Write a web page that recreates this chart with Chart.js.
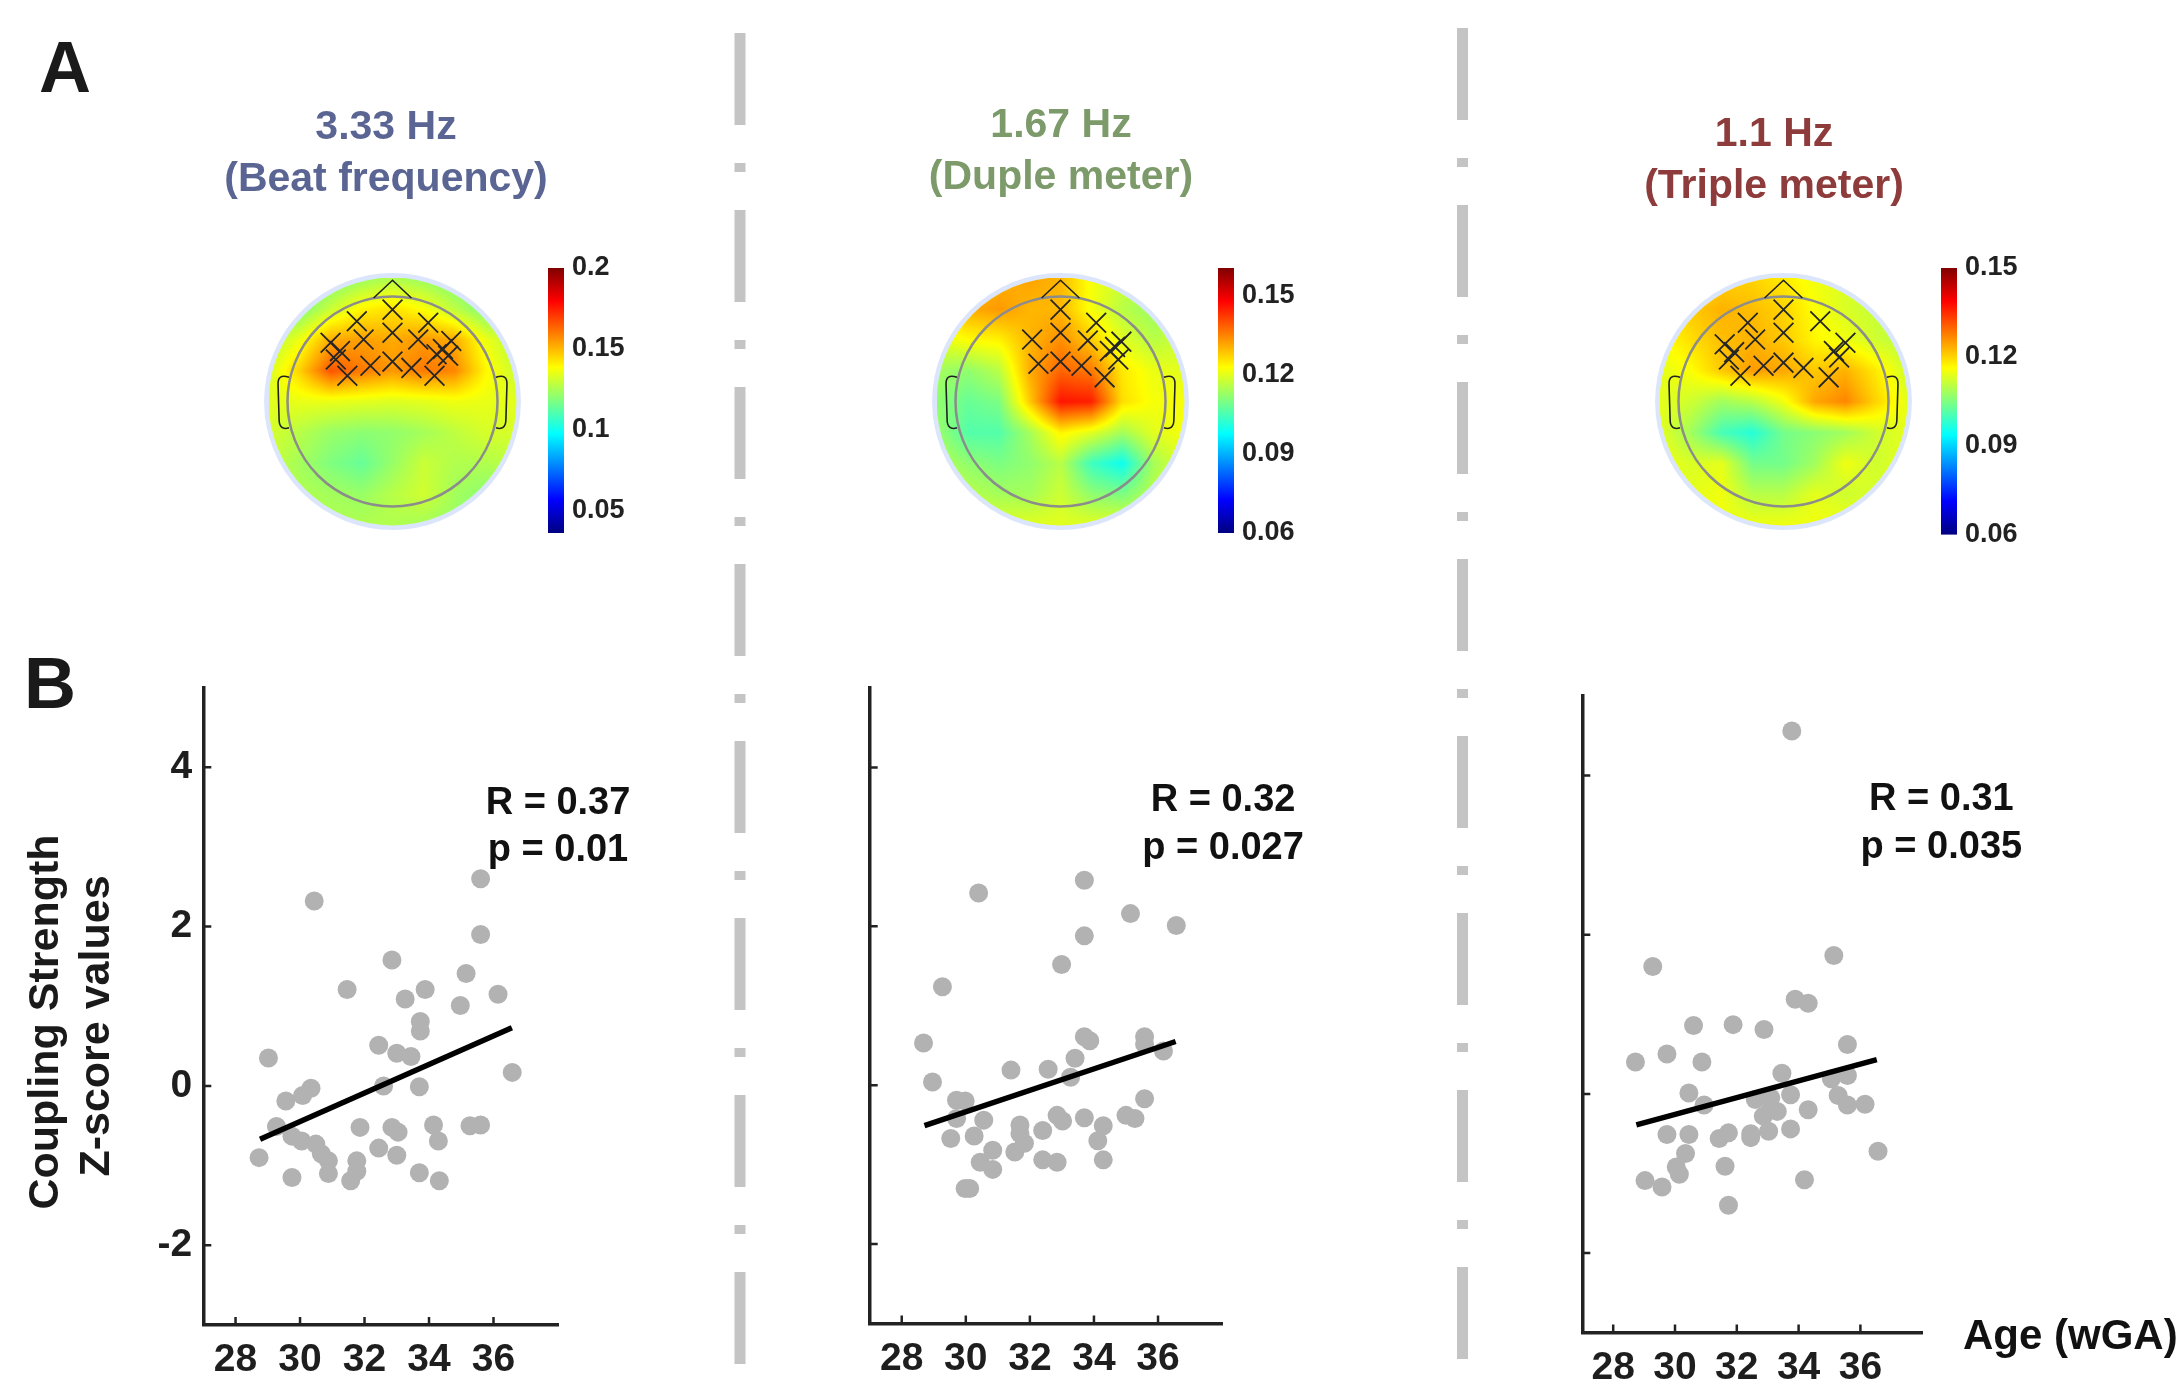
<!DOCTYPE html>
<html>
<head>
<meta charset="utf-8">
<script src="https://cdn.jsdelivr.net/npm/chart.js@4.4.1/dist/chart.umd.min.js"></script>
<style>
  body { margin: 0; background: #fff; }
  #lienzo { position: relative; width: 2181px; height: 1385px; overflow: hidden; font-family: "Liberation Sans", Arial, sans-serif; }
  #lienzo canvas { position: absolute; }
  .texto { position: absolute; font-weight: bold; white-space: nowrap; }
  .titulo { width: 500px; text-align: center; font-size: 41px; line-height: 52px; }
</style>
</head>
<body>
<div id="lienzo">
  <canvas id="separadores" width="2181" height="1385" style="left:0;top:0"></canvas>
  <div class="texto" style="left:39px;top:31px;font-size:72px;line-height:72px;color:#1a1a1a">A</div>
  <div class="texto" style="left:24px;top:647px;font-size:72px;line-height:72px;color:#1a1a1a">B</div>
  <div class="texto" style="left:1963px;top:1310px;font-size:42px;line-height:50px;color:#111">Age (wGA)</div>
</div>
<script>
// Ejes de la parte B
const ticksEdad = [28, 30, 32, 34, 36];
const ticksZ = [-2, 0, 2, 4];

// 3.33 Hz
const edad1 = [28.73, 29.02, 29.27, 29.56, 29.75, 29.75, 30.05, 30.08, 30.34, 30.44, 30.49, 30.66, 30.88, 30.88, 31.46,
  31.57, 31.76, 31.76, 31.86, 32.44, 32.44, 32.59, 32.85, 32.85, 33.04, 33.0, 33.0, 33.26, 33.44, 33.7,
  33.73, 33.73, 33.7, 33.88, 34.14, 34.29, 34.32, 34.97, 35.15, 35.27, 35.6, 35.6, 35.6, 36.14, 36.58];
const z1 = [-0.9, 0.35, -0.51, -0.19, -1.15, -0.63, -0.69, -0.12, -0.03, 2.32, -0.73, -0.85, -0.94, -1.1, 1.21,
  -1.19, -0.94, -1.07, -0.52, -0.78, 0.51, 0.0, 1.58, -0.52, -0.58, -0.87, 0.41, 1.09, 0.37, -0.01,
  0.81, 0.69, -1.09, 1.21, -0.49, -0.69, -1.19, 1.01, 1.41, -0.5, -0.49, 1.9, 2.6, 1.15, 0.17];
const recta1 = [{ x: 28.76, y: -0.67 }, { x: 36.57, y: 0.73 }];

// 1.67 Hz
const edad2 = [28.68, 28.96, 29.27, 29.53, 29.71, 29.71, 29.98, 29.98, 30.12, 30.26, 30.4, 30.45, 30.56, 30.84, 30.84,
  31.41, 31.53, 31.69, 31.69, 31.83, 32.4, 32.4, 32.57, 32.85, 32.85, 32.99, 33.02, 33.27, 33.41, 33.7,
  33.7, 33.7, 33.7, 33.87, 34.12, 34.29, 34.29, 35.0, 35.28, 35.14, 35.58, 35.58, 35.58, 36.17, 36.57];
const z2 = [0.53, 0.04, 1.24, -0.67, -0.19, -0.42, -0.2, -1.3, -1.3, -0.64, 2.42, -0.97, -0.44, -0.82, -1.06,
  0.19, -0.84, -0.5, -0.61, -0.73, -0.57, -0.94, 0.2, -0.38, -0.97, 1.52, -0.45, 0.1, 0.34, 2.58,
  1.88, 0.61, -0.41, 0.56, -0.7, -0.51, -0.94, -0.38, -0.42, 2.16, -0.17, 0.61, 0.52, 0.43, 2.01];
const recta2 = [{ x: 28.71, y: -0.51 }, { x: 36.55, y: 0.55 }];

// 1.1 Hz
const edad3 = [28.72, 29.03, 29.28, 29.58, 29.74, 29.74, 30.04, 30.14, 30.34, 30.45, 30.45, 30.6, 30.87, 30.94, 31.43,
  31.62, 31.73, 31.73, 31.88, 32.45, 32.45, 32.6, 32.88, 32.86, 33.03, 33.1, 33.1, 33.31, 33.46, 33.74,
  33.74, 33.78, 33.89, 34.31, 34.19, 34.31, 35.06, 35.14, 35.28, 35.58, 35.58, 35.58, 36.15, 36.57];
const z3 = [0.4, -1.09, 1.6, -1.17, 0.5, -0.51, -0.92, -1.01, -0.75, 0.01, -0.51, 0.86, 0.4, -0.14, -0.56,
  -0.91, -0.49, -1.4, 0.87, -0.55, -0.5, -0.07, 0.81, -0.28, -0.47, -0.05, -0.2, -0.22, 0.26, -0.01,
  -0.44, 4.56, 1.19, 1.14, -1.08, -0.2, 0.19, 1.74, -0.02, 0.62, 0.23, -0.14, -0.13, -0.72];
const recta3 = [{ x: 28.75, y: -0.39 }, { x: 36.53, y: 0.43 }];

const valoresR = ["0.37", "0.32", "0.31"];
const valoresP = ["0.01", "0.027", "0.035"];

// Parte A: titulos
const frecuencias = ["3.33 Hz", "1.67 Hz", "1.1 Hz"];
const nombres = ["(Beat frequency)", "(Duple meter)", "(Triple meter)"];

// Escalas de color
const rango1 = [0.036, 0.2];
const rango2 = [0.06, 0.1606];
const rango3 = [0.06, 0.15];
const ticksBarra1 = [0.05, 0.1, 0.15, 0.2];
const ticksBarra2 = [0.06, 0.09, 0.12, 0.15];
const ticksBarra3 = [0.06, 0.09, 0.12, 0.15];

// Electrodos significativos (coordenadas de cabeza, radio = 1)
const electrodos1 = [[0, 0.875], [-0.34, 0.765], [0.34, 0.75], [0, 0.655], [-0.275, 0.59], [-0.59, 0.56], [-0.5, 0.48],
  [0.245, 0.59], [0.56, 0.576], [0.48, 0.5], [0.53, 0.435], [-0.54, 0.4], [-0.21, 0.34], [0, 0.38], [0.18, 0.32],
  [0.42, 0.45], [-0.43, 0.245], [0.4, 0.245]];
const electrodos2 = [[0, 0.875], [0.34, 0.75], [-0.27, 0.59], [0, 0.655], [0.26, 0.58], [0.58, 0.57], [0.47, 0.48],
  [0.55, 0.4], [-0.21, 0.36], [0, 0.38], [0.2, 0.34], [0.42, 0.23], [0.52, 0.52]];
const electrodos3 = [[0, 0.875], [-0.34, 0.75], [0.35, 0.765], [0, 0.655], [-0.27, 0.59], [-0.56, 0.545], [-0.47, 0.47],
  [-0.52, 0.4], [0.59, 0.56], [0.48, 0.48], [0.53, 0.42], [-0.19, 0.34], [0, 0.37], [0.19, 0.32], [-0.41, 0.245],
  [0.43, 0.23]];

// Valores del mapa en rejilla 9x9 (filas de arriba a abajo, x de -1.18 a 1.18)
const rejilla1 = [
  [0.115, 0.115, 0.117, 0.122, 0.126, 0.122, 0.117, 0.115, 0.115],
  [0.116, 0.118, 0.13, 0.14, 0.143, 0.138, 0.128, 0.118, 0.116],
  [0.126, 0.136, 0.152, 0.154, 0.152, 0.155, 0.152, 0.136, 0.126],
  [0.132, 0.146, 0.166, 0.16, 0.155, 0.16, 0.158, 0.14, 0.13],
  [0.134, 0.135, 0.135, 0.134, 0.133, 0.134, 0.136, 0.135, 0.134],
  [0.132, 0.127, 0.122, 0.12, 0.121, 0.124, 0.128, 0.132, 0.132],
  [0.13, 0.124, 0.118, 0.114, 0.122, 0.13, 0.126, 0.126, 0.128],
  [0.128, 0.126, 0.124, 0.122, 0.127, 0.131, 0.124, 0.12, 0.122],
  [0.126, 0.126, 0.126, 0.126, 0.126, 0.124, 0.122, 0.12, 0.12]
];
const rejilla2 = [
  [0.125, 0.128, 0.13, 0.132, 0.13, 0.122, 0.118, 0.115, 0.115],
  [0.126, 0.131, 0.133, 0.13, 0.13, 0.122, 0.116, 0.113, 0.115],
  [0.12, 0.123, 0.124, 0.13, 0.134, 0.128, 0.12, 0.116, 0.118],
  [0.114, 0.112, 0.116, 0.131, 0.138, 0.136, 0.125, 0.121, 0.12],
  [0.112, 0.108, 0.11, 0.128, 0.146, 0.145, 0.126, 0.122, 0.122],
  [0.113, 0.106, 0.106, 0.114, 0.124, 0.12, 0.114, 0.12, 0.122],
  [0.116, 0.112, 0.11, 0.112, 0.116, 0.104, 0.099, 0.114, 0.12],
  [0.118, 0.116, 0.114, 0.114, 0.118, 0.112, 0.11, 0.116, 0.12],
  [0.12, 0.12, 0.12, 0.12, 0.12, 0.12, 0.12, 0.12, 0.12]
];
const rejilla3 = [
  [0.116, 0.118, 0.12, 0.12, 0.118, 0.115, 0.113, 0.112, 0.112],
  [0.118, 0.121, 0.123, 0.122, 0.12, 0.116, 0.113, 0.111, 0.11],
  [0.116, 0.119, 0.122, 0.123, 0.121, 0.117, 0.115, 0.112, 0.11],
  [0.114, 0.116, 0.121, 0.125, 0.124, 0.121, 0.123, 0.118, 0.112],
  [0.114, 0.112, 0.108, 0.11, 0.115, 0.124, 0.127, 0.12, 0.114],
  [0.114, 0.108, 0.1, 0.097, 0.104, 0.106, 0.108, 0.112, 0.114],
  [0.115, 0.113, 0.114, 0.104, 0.104, 0.108, 0.115, 0.112, 0.114],
  [0.115, 0.114, 0.115, 0.11, 0.11, 0.114, 0.112, 0.113, 0.115],
  [0.115, 0.115, 0.115, 0.115, 0.115, 0.115, 0.115, 0.115, 0.115]
];

Chart.defaults.font.family = '"Liberation Sans", Arial, sans-serif';
Chart.defaults.color = "#1e1e1e";
Chart.defaults.layout.autoPadding = false;

// Mapa de color jet de MATLAB
function jet(t) {
  t = Math.max(0, Math.min(1, t));
  const f = (v) => Math.max(0, Math.min(1, v));
  return [f(1.5 - Math.abs(4 * t - 3)), f(1.5 - Math.abs(4 * t - 2)), f(1.5 - Math.abs(4 * t - 1))].map((v) => Math.round(v * 255));
}

function nuevoCanvas(izq, arriba, ancho, alto) {
  const c = document.createElement("canvas");
  c.width = ancho;
  c.height = alto;
  c.style.left = izq + "px";
  c.style.top = arriba + "px";
  c.style.width = ancho + "px";
  c.style.height = alto + "px";
  document.getElementById("lienzo").appendChild(c);
  return c.getContext("2d");
}

// Lineas separadoras de raya y punto
function dibujarSeparadores() {
  const ctx = document.getElementById("separadores").getContext("2d");
  ctx.strokeStyle = "#c4c4c4";
  ctx.lineWidth = 11;
  ctx.setLineDash([92, 38, 9, 38]);
  [[740, 33], [1462.5, 28]].forEach(([x, y0]) => {
    ctx.beginPath();
    ctx.moveTo(x, y0);
    ctx.lineTo(x, 1367);
    ctx.stroke();
  });
}

// Plugin: marcas de los ejes hacia dentro
const marcasInternas = {
  id: "marcasInternas",
  afterDraw(chart) {
    const { ctx, chartArea, scales } = chart;
    ctx.save();
    ctx.strokeStyle = "#222";
    ctx.lineWidth = 2.5;
    ctx.beginPath();
    ticksEdad.forEach((v) => {
      const px = scales.x.getPixelForValue(v);
      ctx.moveTo(px, chartArea.bottom);
      ctx.lineTo(px, chartArea.bottom - 8);
    });
    ticksZ.forEach((v) => {
      const py = scales.y.getPixelForValue(v);
      ctx.moveTo(chartArea.left, py);
      ctx.lineTo(chartArea.left + 8, py);
    });
    ctx.stroke();
    ctx.restore();
  },
};

// Plugin: texto con R y p
const textoEstadistico = {
  id: "textoEstadistico",
  afterDraw(chart, args, op) {
    const { ctx, scales } = chart;
    ctx.save();
    ctx.fillStyle = "#111";
    ctx.font = 'bold 38px "Liberation Sans", Arial, sans-serif';
    ctx.textAlign = "center";
    ctx.textBaseline = "middle";
    const px = scales.x.getPixelForValue(op.x);
    ctx.fillText("R = " + op.r, px, scales.y.getPixelForValue(op.yR));
    ctx.fillText("p = " + op.p, px, scales.y.getPixelForValue(op.yP));
    ctx.restore();
  },
};

// Plugin: titulo del eje Y en dos lineas
const tituloY = {
  id: "tituloY",
  afterDraw(chart, args, op) {
    if (!op.lineas) return;
    const ctx = chart.ctx;
    ctx.save();
    ctx.fillStyle = "#1a1a1a";
    ctx.font = 'bold 43px "Liberation Sans", Arial, sans-serif';
    ctx.textAlign = "center";
    ctx.textBaseline = "middle";
    op.lineas.forEach((t, i) => {
      ctx.save();
      ctx.translate(op.xs[i], op.ys[i]);
      ctx.rotate(-Math.PI / 2);
      ctx.fillText(t, 0, 0);
      ctx.restore();
    });
    ctx.restore();
  },
};

// Función para crear cada diagrama de dispersión
function crearDispersion(ctx, cfg) {
  const puntos = cfg.edad.map((x, i) => ({ x, y: cfg.z[i] }));
  return new Chart(ctx, {
    type: "scatter",
    data: {
      datasets: [
        { data: cfg.recta, showLine: true, pointRadius: 0, borderColor: "#000", borderWidth: 5.5, order: 0 },
        { data: puntos, pointRadius: 9.5, backgroundColor: "#b2b2b2", borderWidth: 0, order: 1 },
      ],
    },
    options: {
      responsive: false,
      animation: false,
      devicePixelRatio: 1,
      layout: { autoPadding: false, padding: { top: cfg.arriba, right: cfg.derecha, left: 0, bottom: 0 } },
      plugins: {
        legend: { display: false },
        tooltip: { enabled: false },
        textoEstadistico: cfg.stats,
        tituloY: cfg.tituloY || {},
      },
      scales: {
        x: {
          type: "linear",
          min: 27,
          max: 38,
          afterBuildTicks: (s) => { s.ticks = ticksEdad.map((v) => ({ value: v })); },
          afterFit: (s) => { s.height = cfg.altoX; },
          grid: { display: false, drawTicks: false, tickLength: 0 },
          border: { display: true, color: "#222", width: 3.5 },
          ticks: { font: { size: 39, weight: "bold" }, color: "#1e1e1e", padding: 12, maxRotation: 0, autoSkip: false },
        },
        y: {
          type: "linear",
          min: -3,
          max: 5,
          afterBuildTicks: (s) => { s.ticks = ticksZ.map((v) => ({ value: v })); },
          afterFit: (s) => { s.width = cfg.anchoY; },
          grid: { display: false, drawTicks: false, tickLength: 0 },
          border: { display: true, color: "#222", width: 3.5 },
          ticks: { display: cfg.etiquetasY, font: { size: 39, weight: "bold" }, color: "#1e1e1e", padding: 11 },
        },
      },
    },
    plugins: [marcasInternas, textoEstadistico, tituloY],
  });
}

// Plugin: mapa topográfico interpolado y contorno de la cabeza
const mapaColor = {
  id: "mapaColor",
  beforeDatasetsDraw(chart, args, op) {
    const { ctx, scales: { x, y } } = chart;
    const r = 1.18;
    const x0 = x.getPixelForValue(-r), x1 = x.getPixelForValue(r);
    const y0 = y.getPixelForValue(r), y1 = y.getPixelForValue(-r);
    const w = Math.round(x1 - x0), h = Math.round(y1 - y0);
    const off = document.createElement("canvas");
    off.width = w;
    off.height = h;
    const octx = off.getContext("2d");
    const img = octx.createImageData(w, h);
    const g = op.rejilla;
    const n = g.length;
    for (let j = 0; j < h; j++) {
      for (let i = 0; i < w; i++) {
        const u = (i / (w - 1)) * (n - 1), v = (j / (h - 1)) * (n - 1);
        const i0 = Math.min(Math.floor(u), n - 2), j0 = Math.min(Math.floor(v), n - 2);
        const fu = u - i0, fv = v - j0;
        const val = g[j0][i0] * (1 - fu) * (1 - fv) + g[j0][i0 + 1] * fu * (1 - fv) +
          g[j0 + 1][i0] * (1 - fu) * fv + g[j0 + 1][i0 + 1] * fu * fv;
        const c = jet((val - op.rango[0]) / (op.rango[1] - op.rango[0]));
        const k = (j * w + i) * 4;
        img.data[k] = c[0];
        img.data[k + 1] = c[1];
        img.data[k + 2] = c[2];
        img.data[k + 3] = 255;
      }
    }
    octx.putImageData(img, 0, 0);
    const cx = x.getPixelForValue(0), cy = y.getPixelForValue(0);
    const rp = (x1 - x0) / 2;
    const u1 = x.getPixelForValue(1) - cx;

    ctx.save();
    // halo claro alrededor
    ctx.beginPath();
    ctx.arc(cx, cy, rp + 2, 0, 2 * Math.PI);
    ctx.strokeStyle = "rgba(210,222,250,0.8)";
    ctx.lineWidth = 5;
    ctx.stroke();
    ctx.beginPath();
    ctx.arc(cx, cy, rp, 0, 2 * Math.PI);
    ctx.clip();
    ctx.drawImage(off, x0, y0);
    ctx.restore();

    // contorno de la cabeza
    ctx.save();
    ctx.beginPath();
    ctx.arc(cx, cy, u1, 0, 2 * Math.PI);
    ctx.strokeStyle = "#8c8c8c";
    ctx.lineWidth = 2.5;
    ctx.stroke();
    // nariz
    ctx.strokeStyle = "#222";
    ctx.lineWidth = 1.6;
    ctx.beginPath();
    ctx.moveTo(x.getPixelForValue(-0.18), y.getPixelForValue(0.986));
    ctx.lineTo(x.getPixelForValue(0), y.getPixelForValue(1.155));
    ctx.lineTo(x.getPixelForValue(0.18), y.getPixelForValue(0.986));
    ctx.stroke();
    // orejas
    [-1, 1].forEach((s) => {
      const P = (a, b) => [x.getPixelForValue(s * a), y.getPixelForValue(b)];
      ctx.beginPath();
      ctx.moveTo(...P(0.985, 0.23));
      ctx.quadraticCurveTo(...P(1.095, 0.27), ...P(1.09, 0.16));
      ctx.lineTo(...P(1.08, -0.17));
      ctx.quadraticCurveTo(...P(1.08, -0.28), ...P(0.985, -0.25));
      ctx.stroke();
    });
    ctx.restore();
  },
};

function crearTopomapa(ctx, rejilla, rango, electrodos) {
  return new Chart(ctx, {
    type: "scatter",
    data: {
      datasets: [{
        data: electrodos.map(([x, y]) => ({ x, y })),
        pointStyle: "crossRot",
        pointRadius: 14,
        borderColor: "#262626",
        borderWidth: 1.8,
        backgroundColor: "rgba(0,0,0,0)",
      }],
    },
    options: {
      responsive: false,
      animation: false,
      devicePixelRatio: 1,
      layout: { autoPadding: false, padding: 0 },
      plugins: { legend: { display: false }, tooltip: { enabled: false }, mapaColor: { rejilla, rango } },
      scales: {
        x: { type: "linear", display: false, min: -1.3, max: 1.3 },
        y: { type: "linear", display: false, min: -1.3, max: 1.3 },
      },
    },
    plugins: [mapaColor],
  });
}

// Plugin: barra de color jet
const barraColor = {
  id: "barraColor",
  beforeDraw(chart) {
    const { ctx, chartArea: a } = chart;
    const grad = ctx.createLinearGradient(0, a.bottom, 0, a.top);
    [0, 0.125, 0.375, 0.625, 0.875, 1].forEach((t) => {
      const c = jet(t);
      grad.addColorStop(t, `rgb(${c[0]},${c[1]},${c[2]})`);
    });
    ctx.fillStyle = grad;
    ctx.fillRect(a.left, a.top, a.right - a.left, a.bottom - a.top);
  },
};

function crearBarra(ctx, rango, ticks, abajo) {
  return new Chart(ctx, {
    type: "scatter",
    data: { datasets: [] },
    options: {
      responsive: false,
      animation: false,
      devicePixelRatio: 1,
      layout: { autoPadding: false, padding: { top: 28, bottom: abajo, left: 0, right: 0 } },
      plugins: { legend: { display: false }, tooltip: { enabled: false } },
      scales: {
        x: { display: false, min: 0, max: 1 },
        y: {
          position: "right",
          min: rango[0],
          max: rango[1],
          afterBuildTicks: (s) => { s.ticks = ticks.map((v) => ({ value: v })); },
          afterFit: (s) => { s.width = 114; },
          grid: { display: false, drawTicks: false, tickLength: 0 },
          border: { display: false },
          ticks: { font: { size: 27, weight: "bold" }, color: "#222", padding: 8, callback: (v) => String(v) },
        },
      },
    },
    plugins: [barraColor],
  });
}

function crearTitulos() {
  const lienzo = document.getElementById("lienzo");
  const centros = [386, 1061, 1774];
  const arribas = [99, 97, 106];
  const colores = ["#5a6593", "#7c9a6a", "#8e3b3b"];
  frecuencias.forEach((f, i) => {
    const d = document.createElement("div");
    d.className = "texto titulo";
    d.style.left = centros[i] - 250 + "px";
    d.style.top = arribas[i] + "px";
    d.style.color = colores[i];
    d.innerHTML = f + "<br>" + nombres[i];
    lienzo.appendChild(d);
  });
}

document.addEventListener("DOMContentLoaded", () => {
  dibujarSeparadores();
  crearTitulos();

  // Parte A
  crearTopomapa(nuevoCanvas(256, 264.5, 273, 273), rejilla1, rango1, electrodos1);
  crearTopomapa(nuevoCanvas(924, 264.5, 273, 273), rejilla2, rango2, electrodos2);
  crearTopomapa(nuevoCanvas(1646.5, 264.5, 273, 273), rejilla3, rango3, electrodos3);
  crearBarra(nuevoCanvas(548, 240, 130, 320), rango1, ticksBarra1, 27);
  crearBarra(nuevoCanvas(1218, 240, 130, 320), rango2, ticksBarra2, 27);
  crearBarra(nuevoCanvas(1941, 240, 130, 322), rango3, ticksBarra3, 27.4);

  // Parte B
  crearDispersion(nuevoCanvas(0, 640, 740, 745), {
    edad: edad1, z: z1, recta: recta1, etiquetasY: true,
    arriba: 47.5, derecha: 182, anchoY: 203.3, altoX: 60,
    stats: { r: valoresR[0], p: valoresP[0], x: 38.0, yR: 3.55, yP: 2.96 },
    tituloY: { lineas: ["Coupling Strength", "Z-score values"], xs: [46, 97], ys: [382, 386] },
  });
  crearDispersion(nuevoCanvas(740, 640, 710, 745), {
    edad: edad2, z: z2, recta: recta2, etiquetasY: false,
    arriba: 48, derecha: 227.9, anchoY: 129.7, altoX: 61.5,
    stats: { r: valoresR[1], p: valoresP[1], x: 38.03, yR: 3.58, yP: 2.98 },
  });
  crearDispersion(nuevoCanvas(1450, 640, 731, 745), {
    edad: edad3, z: z3, recta: recta3, etiquetasY: false,
    arriba: 56, derecha: 258.8, anchoY: 132.3, altoX: 52.4,
    stats: { r: valoresR[2], p: valoresP[2], x: 38.62, yR: 3.7, yP: 3.09 },
  });
});
</script>
</body>
</html>
